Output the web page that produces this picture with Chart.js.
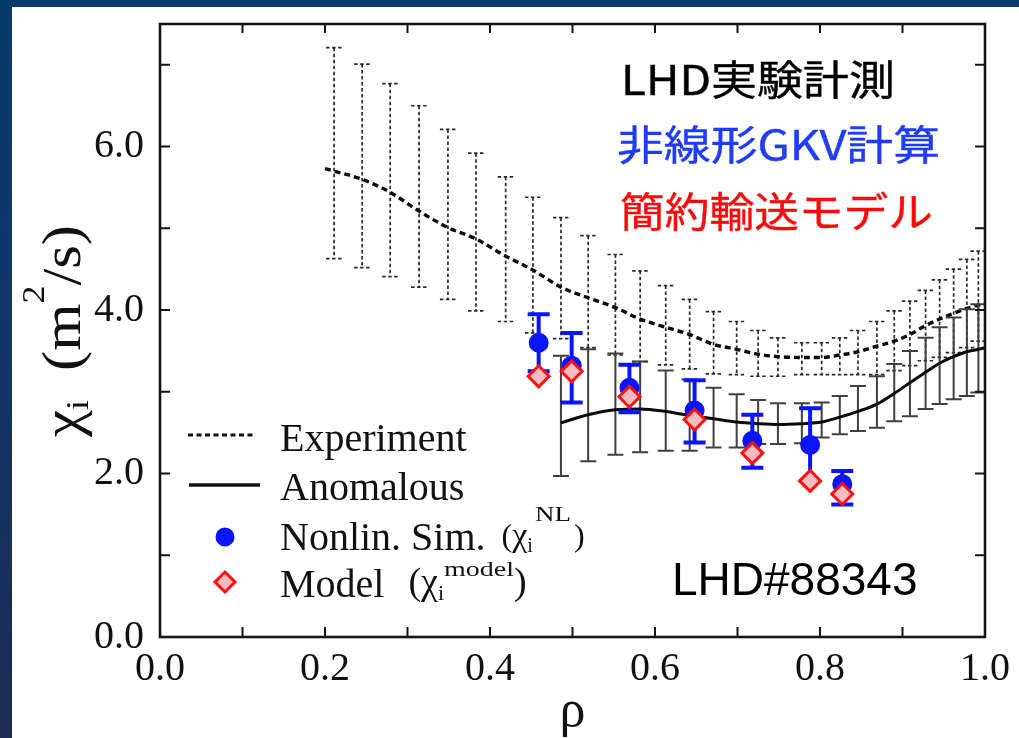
<!DOCTYPE html>
<html lang="ja">
<head>
<meta charset="utf-8">
<title>χi profile LHD#88343</title>
<script src="https://cdn.jsdelivr.net/npm/chart.js@4.4.1/dist/chart.umd.min.js"></script>
<style>
  html, body { margin: 0; padding: 0; }
  body {
    width: 1019px; height: 738px; overflow: hidden; position: relative;
    background: linear-gradient(180deg, #073a6c 0%, #12366a 45%, #1c2b52 100%);
  }
  #panel { position: absolute; left: 12px; top: 7px; right: 0; bottom: 0; background: #fff; }
  #wrap { position: absolute; left: 0; top: 0; width: 1019px; height: 738px; }
</style>
</head>
<body>
<div id="panel"></div>
<div id="wrap"><canvas id="chiChart" width="1019" height="738"></canvas></div>
<script>
// measured profile (dashed) with its error bars; first/last points only carry the curve
const rhoExp = [0.200, 0.211, 0.245, 0.279, 0.314, 0.349, 0.383, 0.419, 0.452, 0.486, 0.519, 0.552, 0.582, 0.613, 0.642, 0.671,
                0.699, 0.725, 0.749, 0.778, 0.802, 0.824, 0.846, 0.869, 0.890, 0.909, 0.928, 0.945, 0.962, 0.978, 0.992, 1.000];
const chiExp = [5.73, 5.70, 5.60, 5.44, 5.21, 5.01, 4.87, 4.66, 4.49, 4.28, 4.15, 4.03, 3.89, 3.79, 3.70, 3.58,
                3.52, 3.46, 3.43, 3.42, 3.42, 3.45, 3.49, 3.56, 3.62, 3.70, 3.81, 3.89, 3.96, 4.02, 4.06, 4.08];
const chiExpLo = [null, 4.63, 4.52, 4.41, 4.28, 4.13, 3.99, 3.86, 3.72, 3.65, 3.54, 3.45, 3.37, 3.33, 3.28, 3.22,
                  3.21, 3.19, 3.19, 3.21, 3.21, 3.21, 3.21, 3.21, 3.26, 3.32, 3.38, 3.42, 3.48, 3.54, 3.62, null];
const chiExpHi = [null, 7.21, 7.01, 6.77, 6.50, 6.21, 5.92, 5.63, 5.38, 5.13, 4.91, 4.68, 4.48, 4.30, 4.13, 3.98,
                  3.86, 3.75, 3.66, 3.60, 3.60, 3.66, 3.75, 3.86, 3.99, 4.11, 4.24, 4.37, 4.50, 4.62, 4.72, null];

// anomalous part (solid)
const rhoAno = [0.486, 0.519, 0.552, 0.582, 0.613, 0.642, 0.671, 0.699, 0.725, 0.749, 0.778, 0.802,
                0.824, 0.846, 0.869, 0.890, 0.909, 0.928, 0.945, 0.962, 0.978, 0.992, 1.000];
const chiAno = [2.62, 2.72, 2.78, 2.79, 2.76, 2.71, 2.67, 2.63, 2.61, 2.60, 2.61, 2.63,
                2.69, 2.76, 2.85, 2.98, 3.11, 3.24, 3.35, 3.43, 3.49, 3.52, 3.54];
const chiAnoLo = [1.97, 2.15, 2.23, 2.26, 2.28, 2.28, 2.32, 2.32, 2.36, 2.36, 2.37, 2.44,
                  2.48, 2.52, 2.56, 2.64, 2.70, 2.79, 2.85, 2.91, 2.95, 2.99, null];
const chiAnoHi = [3.44, 3.52, 3.47, 3.37, 3.26, 3.15, 3.05, 2.97, 2.90, 2.86, 2.86, 2.87,
                  2.95, 3.07, 3.19, 3.34, 3.50, 3.66, 3.79, 3.91, 4.01, 4.07, null];

// nonlinear GKV runs and reduced model
const rhoSim = [0.459, 0.499, 0.569, 0.648, 0.718, 0.788, 0.827];
const chiSim = [3.60, 3.32, 3.05, 2.77, 2.40, 2.35, 1.87];
const chiSimLo = [3.25, 2.87, 2.75, 2.38, 2.07, 1.91, 1.62];
const chiSimHi = [3.95, 3.72, 3.33, 3.14, 2.72, 2.80, 2.03];
const chiModel = [3.19, 3.25, 2.94, 2.66, 2.25, 1.91, 1.75];

// axes
const xTickVals = [0, 0.2, 0.4, 0.6, 0.8, 1.0];
const yTickVals = [0, 2, 4, 6];
const xTickMarks = [0.1, 0.2, 0.3, 0.4, 0.5, 0.6, 0.7, 0.8, 0.9];
const yTickMarks = [1, 2, 3, 4, 5, 6, 7];

const SERIF = '"Liberation Serif", "Times New Roman", serif';
const serif = s => s + 'px ' + SERIF;
const pts = (xs, ys) => xs.map((x, i) => ({ x: x, y: ys[i] }));

const BLUE = '#0a14ff';
const RED = '#ff1010';
const PINK = '#f7bcc1';

// vertical error bars with caps, drawn under each dataset's own marks
const errorBars = {
  id: 'errorBars',
  beforeDatasetDraw(chart, args) {
    const ds = chart.data.datasets[args.index];
    if (!ds.errLo) return;
    const { ctx, chartArea, scales: { x, y } } = chart;
    const st = ds.errStyle;
    ctx.save();
    ctx.beginPath();
    ctx.rect(chartArea.left, chartArea.top, chartArea.width, chartArea.height);
    ctx.clip();
    ctx.strokeStyle = st.color;
    ctx.lineWidth = st.width;
    ctx.setLineDash(st.dash || []);
    ds.data.forEach((p, i) => {
      const lo = ds.errLo[i], hi = ds.errHi[i];
      if (lo == null || hi == null) return;
      const px = x.getPixelForValue(p.x);
      const yLo = y.getPixelForValue(lo), yHi = y.getPixelForValue(hi);
      ctx.beginPath();
      ctx.moveTo(px, yHi); ctx.lineTo(px, yLo);
      ctx.moveTo(px - st.cap, yHi); ctx.lineTo(px + st.cap, yHi);
      ctx.moveTo(px - st.cap, yLo); ctx.lineTo(px + st.cap, yLo);
      ctx.stroke();
    });
    ctx.restore();
  }
};

// box frame with inward ticks on all four sides
const frame = {
  id: 'frame',
  afterDatasetsDraw(chart) {
    const { ctx, chartArea: a, scales: { x, y } } = chart;
    ctx.save();
    ctx.strokeStyle = '#151515';
    ctx.lineWidth = 2;
    ctx.beginPath();
    xTickMarks.forEach(v => {
      const px = x.getPixelForValue(v);
      ctx.moveTo(px, a.bottom); ctx.lineTo(px, a.bottom - 10);
      ctx.moveTo(px, a.top); ctx.lineTo(px, a.top + 9);
    });
    yTickMarks.forEach(v => {
      const py = y.getPixelForValue(v);
      ctx.moveTo(a.left, py); ctx.lineTo(a.left + 10, py);
      ctx.moveTo(a.right, py); ctx.lineTo(a.right - 10, py);
    });
    ctx.stroke();
    ctx.lineWidth = 2.6;
    ctx.strokeRect(a.left, a.top, a.width, a.height);
    ctx.restore();
  }
};

// text pieces with sub/superscripts; w stretches a piece to a given width
function drawRuns(ctx, runs, x, y, dry) {
  let cx = x;
  runs.forEach(r => {
    ctx.font = r.font;
    const w = ctx.measureText(r.t).width;
    const sx = r.w ? r.w / w : 1;
    if (!dry) {
      ctx.save();
      ctx.translate(cx, y + (r.dy || 0));
      ctx.scale(sx, 1);
      ctx.fillText(r.t, 0, 0);
      ctx.restore();
    }
    cx += w * sx + (r.gap || 0);
  });
  return cx - x;
}

// caption stretched to a set width, lightly emboldened
function drawFit(ctx, text, x, y, width, font, color) {
  ctx.save();
  ctx.font = font;
  ctx.fillStyle = color;
  ctx.strokeStyle = color;
  ctx.lineWidth = 0.4;
  ctx.textBaseline = 'middle';
  const w = ctx.measureText(text).width;
  ctx.translate(x, y);
  ctx.scale(width / w, 1);
  ctx.fillText(text, 0, 0);
  ctx.strokeText(text, 0, 0);
  ctx.restore();
}

const notes = {
  id: 'notes',
  afterDraw(chart) {
    const ctx = chart.ctx;
    ctx.save();
    ctx.fillStyle = '#111';
    ctx.textBaseline = 'alphabetic';
    ctx.textAlign = 'left';

    // y axis title, rotated and stretched along its length
    const yTitle = [
      { t: 'χ', font: serif(54) },
      { t: 'i', font: serif(32), dy: 8, gap: 26 },
      { t: '(m', font: serif(54) },
      { t: '2', font: serif(32), dy: -36 },
      { t: '/s)', font: serif(54) }
    ];
    const tw = drawRuns(ctx, yTitle, 0, 0, true);
    const span = 212;
    ctx.save();
    ctx.translate(80, 331);
    ctx.rotate(-Math.PI / 2);
    ctx.scale(span / tw, 1);
    drawRuns(ctx, yTitle, -tw / 2, 0);
    ctx.restore();

    // legend samples
    ctx.save();
    ctx.strokeStyle = '#111';
    ctx.lineWidth = 3;
    ctx.setLineDash([5, 3.5]);
    ctx.beginPath(); ctx.moveTo(188, 435); ctx.lineTo(256, 435); ctx.stroke();
    ctx.setLineDash([]);
    ctx.lineWidth = 3.5;
    ctx.beginPath(); ctx.moveTo(189, 485); ctx.lineTo(260, 485); ctx.stroke();
    ctx.fillStyle = BLUE;
    ctx.beginPath(); ctx.arc(225, 537, 9.5, 0, Math.PI * 2); ctx.fill();
    ctx.fillStyle = PINK;
    ctx.strokeStyle = RED;
    ctx.lineWidth = 3;
    ctx.beginPath();
    ctx.moveTo(225, 572); ctx.lineTo(235, 582); ctx.lineTo(225, 592); ctx.lineTo(215, 582); ctx.closePath();
    ctx.fill(); ctx.stroke();
    ctx.restore();

    // legend text
    ctx.font = serif(40);
    ctx.fillText('Experiment', 280, 451);
    ctx.fillText('Anomalous', 280, 500);
    drawRuns(ctx, [
      { t: 'Nonlin. Sim.', font: serif(40), gap: 16 },
      { t: '(', font: serif(32), dy: -4 },
      { t: 'χ', font: serif(34), dy: -4 },
      { t: 'i', font: serif(20), dy: 2, gap: 2 },
      { t: 'NL', font: serif(22), dy: -29, w: 36, gap: 3 },
      { t: ')', font: serif(32), dy: -4 }
    ], 280, 550);
    drawRuns(ctx, [
      { t: 'Model', font: serif(40), gap: 24 },
      { t: '(', font: serif(38), dy: -3 },
      { t: 'χ', font: serif(38), dy: -3 },
      { t: 'i', font: serif(22), dy: 3 },
      { t: 'model', font: serif(22), dy: -21, w: 70 },
      { t: ')', font: serif(38), dy: -3 }
    ], 280, 597);

    // captions
    const JP = '"Noto Sans CJK JP", "Noto Sans", sans-serif';
    drawFit(ctx, 'LHD実験計測', 621, 79, 274, '400 41px ' + JP, '#000000');
    drawFit(ctx, '非線形GKV計算', 617, 144, 323, '400 41px ' + JP, '#1f3cf6');
    drawFit(ctx, '簡約輸送モデル', 620, 211, 313, '400 41px ' + JP, '#fa0a0a');
    ctx.fillStyle = '#000';
    ctx.font = '46px "Liberation Sans", Arial, sans-serif';
    ctx.fillText('LHD#88343', 672, 595);
    ctx.restore();
  }
};

new Chart(document.getElementById('chiChart'), {
  type: 'scatter',
  data: {
    datasets: [
      {
        label: 'Model',
        data: pts(rhoSim, chiModel),
        pointStyle: 'rectRot',
        pointRadius: 10.5,
        backgroundColor: PINK,
        borderColor: RED,
        borderWidth: 3
      },
      {
        label: 'Nonlin. Sim.',
        data: pts(rhoSim, chiSim),
        pointStyle: 'circle',
        pointRadius: 10,
        backgroundColor: BLUE,
        borderColor: BLUE,
        borderWidth: 0,
        errLo: chiSimLo,
        errHi: chiSimHi,
        errStyle: { color: BLUE, width: 4, cap: 11 }
      },
      {
        label: 'Anomalous',
        data: pts(rhoAno, chiAno),
        showLine: true,
        cubicInterpolationMode: 'monotone',
        borderColor: '#0a0a0a',
        borderWidth: 3,
        pointRadius: 0,
        errLo: chiAnoLo,
        errHi: chiAnoHi,
        errStyle: { color: '#404040', width: 2, cap: 8 }
      },
      {
        label: 'Experiment',
        data: pts(rhoExp, chiExp),
        showLine: true,
        cubicInterpolationMode: 'monotone',
        borderColor: '#0a0a0a',
        borderWidth: 3.4,
        borderDash: [6, 4],
        pointRadius: 0,
        errLo: chiExpLo,
        errHi: chiExpHi,
        errStyle: { color: '#2a2a2a', width: 1.7, cap: 8, dash: [3.5, 2.5] }
      }
    ]
  },
  options: {
    responsive: false,
    animation: false,
    events: [],
    layout: { padding: { left: 0, top: 24, right: 34, bottom: 0 } },
    plugins: {
      legend: { display: false },
      tooltip: { enabled: false }
    },
    scales: {
      x: {
        type: 'linear',
        min: 0,
        max: 1,
        grid: { display: false },
        border: { display: false },
        afterBuildTicks: s => { s.ticks = xTickVals.map(v => ({ value: v })); },
        afterFit: s => { s.height = 101; s.paddingLeft = 0; s.paddingRight = 0; },
        ticks: {
          padding: 0,
          maxRotation: 0,
          autoSkip: false,
          color: '#111',
          font: { family: SERIF, size: 40 },
          callback: v => Number(v).toFixed(1)
        },
        title: {
          display: true,
          text: 'ρ',
          color: '#111',
          font: { family: SERIF, size: 52, lineHeight: 1.0 },
          padding: { top: 0, bottom: 0 }
        }
      },
      y: {
        type: 'linear',
        min: 0,
        max: 7.5,
        grid: { display: false },
        border: { display: false },
        afterBuildTicks: s => { s.ticks = yTickVals.map(v => ({ value: v })); },
        afterFit: s => { s.width = 160; s.paddingTop = 0; s.paddingBottom = 0; },
        ticks: {
          padding: 8,
          color: '#111',
          font: { family: SERIF, size: 40 },
          callback: v => Number(v).toFixed(1)
        }
      }
    }
  },
  plugins: [errorBars, frame, notes]
});
</script>
</body>
</html>
